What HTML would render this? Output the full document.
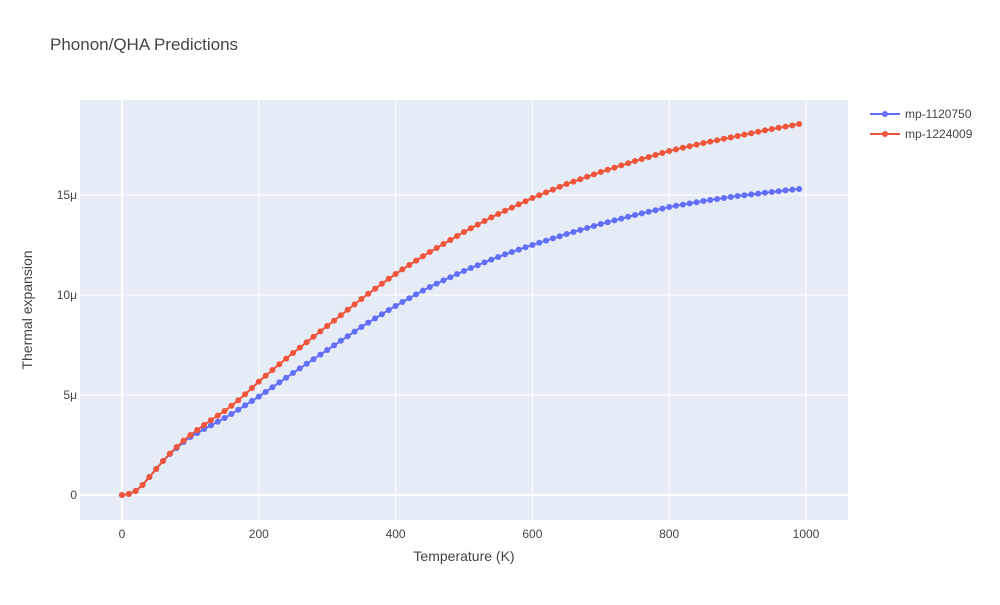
<!DOCTYPE html>
<html><head><meta charset="utf-8"><style>
body{margin:0;background:#fff;font-family:"Liberation Sans",sans-serif;}
svg text{font-family:"Liberation Sans",sans-serif;}
</style></head><body>
<svg id="chart" width="1000" height="600" xmlns="http://www.w3.org/2000/svg">
<rect width="1000" height="600" fill="#fff"/>
<text x="50" y="50" font-size="17" fill="#444">Phonon/QHA Predictions</text>
<rect x="80" y="100" width="768" height="420" fill="#e5ecf6"/>
<g id="grid"></g>
<g id="series"></g>
<text x="464" y="561" font-size="14" fill="#444" text-anchor="middle">Temperature (K)</text>
<text transform="translate(32,310) rotate(-90)" font-size="14" fill="#444" text-anchor="middle">Thermal expansion</text>
<g id="legend"></g>
</svg>
<script>
const temps = [];
for (let t = 0; t <= 990; t += 10) temps.push(t);
const seriesNames = ["mp-1120750", "mp-1224009"];
const blueValues = [0,0.05,0.2,0.5,0.9,1.3,1.7,2.05,2.35,2.65,
2.9,3.1,3.3,3.48,3.66,3.85,4.05,4.26,4.48,4.7,
4.92,5.15,5.39,5.63,5.86,6.1,6.33,6.56,6.79,7.02,
7.25,7.48,7.71,7.94,8.17,8.4,8.62,8.83,9.04,9.25,
9.45,9.65,9.84,10.03,10.22,10.4,10.57,10.73,10.89,11.05,
11.2,11.35,11.49,11.63,11.77,11.9,12.03,12.15,12.27,12.39,
12.5,12.61,12.72,12.83,12.94,13.05,13.15,13.25,13.35,13.45,
13.55,13.64,13.73,13.82,13.91,14.0,14.08,14.16,14.24,14.32,
14.4,14.46,14.52,14.58,14.64,14.7,14.75,14.8,14.85,14.9,
14.95,14.99,15.03,15.07,15.11,15.15,15.19,15.23,15.27,15.3];
const redValues = [0,0.05,0.2,0.5,0.9,1.3,1.7,2.07,2.4,2.72,
3.0,3.25,3.5,3.74,3.97,4.2,4.46,4.74,5.04,5.35,
5.67,5.96,6.25,6.54,6.82,7.1,7.37,7.64,7.91,8.18,
8.45,8.72,8.99,9.26,9.53,9.8,10.06,10.31,10.56,10.81,
11.05,11.28,11.5,11.72,11.94,12.15,12.35,12.55,12.75,12.95,
13.15,13.34,13.52,13.7,13.88,14.05,14.21,14.37,14.53,14.69,
14.85,14.99,15.13,15.27,15.41,15.55,15.67,15.79,15.91,16.03,
16.15,16.26,16.37,16.48,16.59,16.7,16.8,16.9,17.0,17.1,
17.2,17.28,17.36,17.44,17.52,17.6,17.67,17.74,17.81,17.88,
17.95,18.02,18.09,18.16,18.23,18.3,18.36,18.42,18.48,18.55];
const xTicks = [0,200,400,600,800,1000];
const xTickLabels = ["0","200","400","600","800","1000"];
const yTicks = [0,5,10,15];
const yTickLabels = ["0","5μ","10μ","15μ"];

const NS = "http://www.w3.org/2000/svg";
const xS = v => 122 + v * 0.684;
const yS = v => 495 - v * 20;
function mk(tag, attrs, parent) {
  const e = document.createElementNS(NS, tag);
  for (const k in attrs) e.setAttribute(k, attrs[k]);
  parent.appendChild(e);
  return e;
}
const grid = document.getElementById("grid");
const svg = document.getElementById("chart");
xTicks.forEach((t, i) => {
  const l = mk("line", {x1: xS(t), x2: xS(t), y1: 100, y2: 520, stroke: "#fff", "stroke-width": t === 0 ? 2 : 1}, grid);
  
  
  const tx = mk("text", {x: xS(t), y: 538, "font-size": 12, fill: "#444", "text-anchor": "middle"}, svg);
  tx.textContent = xTickLabels[i];
  
  
});
yTicks.forEach((t, i) => {
  const l = mk("line", {x1: 80, x2: 848, y1: yS(t), y2: yS(t), stroke: "#fff", "stroke-width": t === 0 ? 2 : 1}, grid);
  
  
  const tx = mk("text", {x: 77, y: yS(t) + 4, "font-size": 12, fill: "#444", "text-anchor": "end"}, svg);
  tx.textContent = yTickLabels[i];
  
  
});
const sg = document.getElementById("series");
const colors = ["#636efa", "#ef553b"];
[blueValues, redValues].forEach((vals, si) => {
  const g = mk("g", {}, sg);
  
  
  const pts = vals.map((v, i) => xS(temps[i]) + "," + yS(v)).join(" ");
  const pl = mk("polyline", {points: pts, fill: "none", stroke: colors[si], "stroke-width": 2}, g);
  
  
  vals.forEach((v, i) => {
    const c = mk("circle", {cx: xS(temps[i]), cy: yS(v), r: 3, fill: colors[si]}, g);
    
    
  });
});
const lg = document.getElementById("legend");
seriesNames.forEach((n, i) => {
  const y = 114 + i * 20;
  const g = mk("g", {}, lg);
  
  
  mk("line", {x1: 870, x2: 900, y1: y, y2: y, stroke: colors[i], "stroke-width": 2}, g);
  mk("circle", {cx: 885, cy: y, r: 3, fill: colors[i]}, g);
  const t = mk("text", {x: 905, y: y + 4, "font-size": 12, fill: "#444"}, g);
  t.textContent = n;
});
</script>
</body></html>
